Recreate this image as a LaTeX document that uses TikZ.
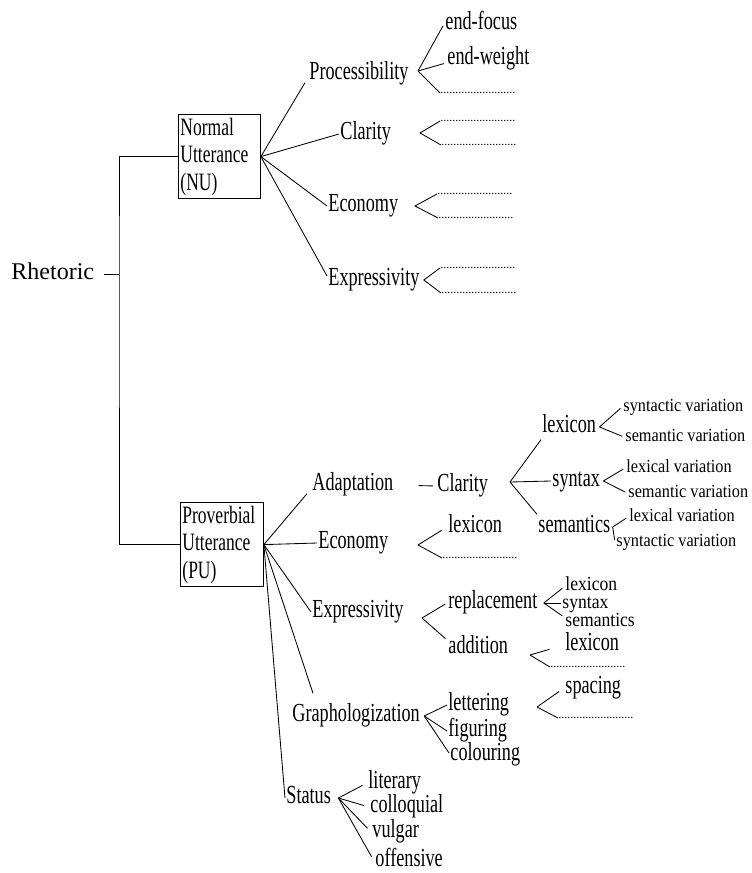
\documentclass[tikz,border=0pt]{standalone}
\usepackage{fontspec}
\setmainfont[FakeStretch=0.7]{Liberation Serif}
\newfontfamily\varfont[FakeStretch=0.88]{Liberation Serif}
\newfontfamily\rhfont{Liberation Serif}
\newcommand\rowdots{.........................}
\begin{document}
\begin{tikzpicture}[x=1pt, y=-1pt, line width=0.85pt,
  lbl/.style={anchor=west, inner sep=1pt, text height=17pt, text depth=5.5pt, font=\fontsize{26}{28}\selectfont},
  vari/.style={lbl, text height=13pt, text depth=4pt, font=\varfont\fontsize{18.5}{21}\selectfont},
  dotrow/.style={anchor=base west, inner sep=0pt, font=\rhfont\fontsize{12}{14}\selectfont},
  utt/.style={draw, anchor=north west, align=left, inner xsep=2pt, minimum height=84pt, font=\fontsize{25}{27.5}\selectfont},
  br/.style={shorten >=2pt}
]
\useasboundingbox (0,0) rectangle (752,873);

\node[lbl, text height=16pt, text depth=0pt, font=\rhfont\fontsize{24}{28}\selectfont] (rh) at (10,271) {Rhetoric};
\node[utt, text width=78pt] (nu) at (178,114) {Normal\\Utterance\\(NU)};
\node[utt, text width=79pt] (pu) at (180,502) {Proverbial\\Utterance\\(PU)};
\coordinate (tr) at (119,274);
\draw ([xshift=9pt,yshift=-3pt]rh.east) -- (tr);
\draw (nu.west) -| (tr) |- (pu.west);

% normal utterance
\node[lbl] (proc) at (308,74) {Processibility};
\node[lbl] (clar) at (339,134) {Clarity};
\node[lbl] (econ) at (327,206) {Economy};
\node[lbl] (expr) at (327,280) {Expressivity};
\draw (nu.east) -- ([xshift=-3pt,yshift=4pt]proc.south west);
\draw (nu.east) -- (clar.west);
\draw (nu.east) -- (econ.west);
\draw (nu.east) -- ([yshift=4pt]expr.west);

\coordinate (pa) at (418,71);
\node[lbl] (ef) at (444,24) {end-focus};
\node[lbl] (ew) at (446,59) {end-weight};
\node[dotrow] (d1) at (440,93) {\rowdots};
\draw[br] (pa) -- (ef.west);
\draw[br] (pa) -- ([yshift=-4pt]ew.west);
\draw (pa) -- (d1.base west);

\coordinate (ca) at (420,133);
\node[dotrow] (d2) at (440,121) {\rowdots};
\node[dotrow] (d3) at (441,145) {\rowdots};
\draw (d2.base west) -- (ca) -- (d3.base west);

\coordinate (ea) at (415,206);
\node[dotrow] (d4) at (437,194) {\rowdots};
\node[dotrow] (d5) at (438,218) {\rowdots};
\draw (d4.base west) -- (ea) -- (d5.base west);

\coordinate (xa) at ([xshift=3pt]expr.east);
\node[dotrow] (d6) at (440,268) {\rowdots};
\node[dotrow] (d7) at (441,293) {\rowdots};
\draw (d6.base west) -- (xa) -- (d7.base west);

% proverbial utterance
\node[lbl] (ad) at (311,485) {Adaptation};
\node[lbl] (ec2) at (317,543) {Economy};
\node[lbl] (ex2) at (311,612) {Expressivity};
\node[lbl] (gr) at (291,716) {Graphologization};
\node[lbl] (st) at (285,798) {Status};
\draw (pu.east) -- ([xshift=-4pt,yshift=4pt]ad.south west);
\draw (pu.east) -- (ec2.west);
\draw (pu.east) -- (ex2.west);
\draw (pu.east) -- ([xshift=22pt,yshift=10pt]gr.north west);
\draw (pu.east) -- (st.west);

\node[lbl] (cl2) at (436,486) {Clarity};
\draw[shorten <=24pt, shorten >=3pt] (ad.east) -- (cl2.west);
\coordinate (cla) at (510,482);
\node[lbl] (lex1) at (541,427) {lexicon};
\node[lbl] (syn1) at (551,481) {syntax};
\node[lbl] (sem1) at (537,527) {semantics};
\draw (cla) -- (lex1.south west);
\draw (cla) -- (syn1.west);
\draw (cla) -- (sem1.north west);

\node[vari] (v1) at (622,407) {syntactic variation};
\node[vari] (v2) at (624,437) {semantic variation};
\node[vari] (v3) at (625,468) {lexical variation};
\node[vari] (v4) at (627,493) {semantic variation};
\node[vari] (v5) at (628,517) {lexical variation};
\node[vari] (v6) at (615,542) {syntactic variation};
\coordinate (la) at ([xshift=2pt]lex1.east);
\coordinate (sa) at ([xshift=2pt]syn1.east);
\coordinate (ma) at ([xshift=1pt]sem1.east);
\draw[br] (la) -- (v1.west);
\draw[br] (la) -- (v2.west);
\draw[br] (sa) -- (v3.west);
\draw[br] (sa) -- (v4.west);
\draw[br] (ma) -- (v5.west);
\draw[br] (ma) -- (v6.west);

\coordinate (e2a) at (418,545);
\node[lbl] (lex2) at (447,527) {lexicon};
\node[dotrow] (d8) at (442,558) {\rowdots};
\draw[br, shorten >=6pt] (e2a) -- (lex2.west);
\draw (e2a) -- (d8.base west);

\coordinate (x2a) at (422,618);
\node[lbl] (rep) at (447,603) {replacement};
\node[lbl] (add) at (447,648) {addition};
\draw[br] (x2a) -- (rep.west);
\draw[br] (x2a) -- ([yshift=8pt]add.west);

\coordinate (ra) at ([xshift=5pt]rep.east);
\node[lbl, font=\varfont\fontsize{20}{22}\selectfont] (lex3) at (564,585) {lexicon};
\node[lbl, font=\varfont\fontsize{20}{22}\selectfont] (syn2) at (561,603) {syntax};
\node[lbl, font=\varfont\fontsize{20}{22}\selectfont] (sem2) at (564,621) {semantics};
\draw[br] (ra) -- ([yshift=-2pt]lex3.west);
\draw (ra) -- (syn2.west);
\draw[br] (ra) -- ([yshift=4pt]sem2.west);

\coordinate (aa) at (530,655);
\node[lbl] (lex4) at (564,645) {lexicon};
\node[dotrow] (d9) at (550,667) {\rowdots};
\draw[br, shorten >=15pt] (aa) -- (lex4.west);
\draw (aa) -- (d9.base west);

\coordinate (ga) at ([xshift=3pt]gr.east);
\node[lbl] (let) at (447,705) {lettering};
\node[lbl] (fig) at (447,731) {figuring};
\node[lbl] (col) at (449,755) {colouring};
\draw (ga) -- (let.west);
\draw (ga) -- (fig.west);
\draw (ga) -- ([yshift=2pt]col.west);

\coordinate (spa) at (537,707);
\node[lbl] (spc) at (564,688) {spacing};
\node[dotrow] (d10) at (558,718) {\rowdots};
\draw[br, shorten >=6pt] (spa) -- (spc.west);
\draw (spa) -- (d10.base west);

\coordinate (sta) at ([xshift=6pt]st.east);
\node[lbl] (lit) at (367,783) {literary};
\node[lbl] (coll) at (369,807) {colloquial};
\node[lbl] (vul) at (371,832) {vulgar};
\node[lbl] (off) at (374,861) {offensive};
\draw[br, shorten >=5pt] (sta) -- (lit.west);
\draw[br, shorten >=5pt] (sta) -- (coll.west);
\draw[br, shorten >=5pt] (sta) -- (vul.west);
\draw[br, shorten >=5pt] (sta) -- (off.west);
\end{tikzpicture}
\end{document}
